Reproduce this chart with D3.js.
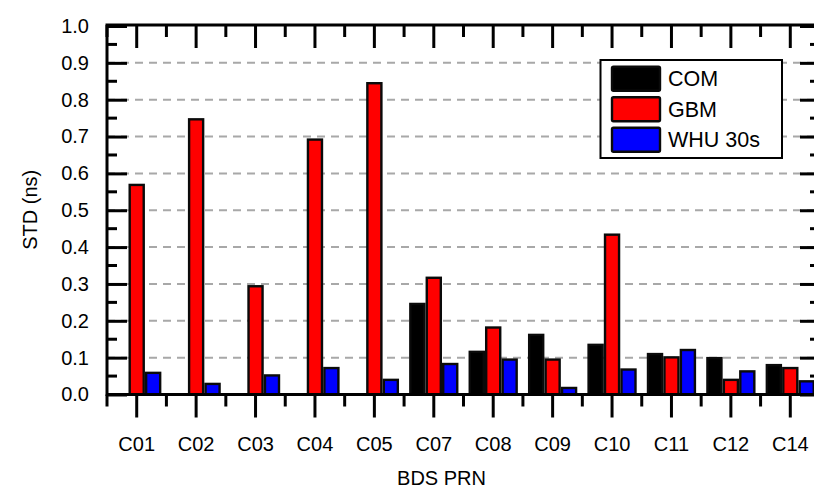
<!DOCTYPE html>
<html>
<head>
<meta charset="utf-8">
<script src="https://cdn.jsdelivr.net/npm/d3@7/dist/d3.min.js"></script>
<style>
  html, body { margin: 0; padding: 0; background: #fff; }
  svg { display: block; font-family: Arial, "Liberation Sans", sans-serif; }
</style>
</head>
<body>
<svg id="chart" width="814" height="489"></svg>
<script>
// ---- data ----
const categories = ["C01","C02","C03","C04","C05","C07","C08","C09","C10","C11","C12","C14"];
const seriesNames = ["COM","GBM","WHU 30s"];
const comValues = [0, 0, 0, 0, 0, 0.249, 0.119, 0.165, 0.138, 0.113, 0.102, 0.083];
const gbmValues = [0.572, 0.750, 0.297, 0.695, 0.848, 0.320, 0.185, 0.098, 0.437, 0.104, 0.043, 0.075];
const whuValues = [0.062, 0.032, 0.055, 0.075, 0.043, 0.086, 0.098, 0.021, 0.071, 0.124, 0.066, 0.039];
const yTickValues = [0.0, 0.1, 0.2, 0.3, 0.4, 0.5, 0.6, 0.7, 0.8, 0.9, 1.0];
const gridValues = [0.1, 0.2, 0.3, 0.4, 0.5, 0.6, 0.7, 0.8, 0.9];
const seriesColors = ["#000000", "#ff0000", "#0000ff"];

(function () {
const valuesBySeries = [comValues, gbmValues, whuValues];
const rows = categories.map((c, i) => ({
  cat: c,
  vals: seriesNames.map((s, k) => ({ key: s, value: valuesBySeries[k][i], color: seriesColors[k] }))
}));

// ---- layout ----
const pL = 107, pR = 820, pT = 25, pB = 394.5;
const svg = d3.select("#chart");

const x = d3.scaleBand().domain(categories).range([pL, pR]).padding(0);
const y = d3.scaleLinear().domain([0, 1]).range([pB, 26]);
const groupW = x.bandwidth() * 0.83;
const x1 = d3.scaleBand().domain(seriesNames).range([-groupW / 2, groupW / 2]).padding(0);

// gridlines
svg.append("g").selectAll("line").data(gridValues).join("line")
  .attr("x1", pL).attr("x2", pR)
  .attr("y1", d => y(d)).attr("y2", d => y(d))
  .attr("stroke", "#a8a8a8").attr("stroke-width", 2)
  .attr("stroke-dasharray", "8,6");

// bars
const sw = 2.4;
const groups = svg.append("g").selectAll("g").data(rows).join("g")
  .attr("transform", d => `translate(${x(d.cat) + x.bandwidth() / 2},0)`);
groups.selectAll("rect").data(d => d.vals.filter(v => v.value > 0)).join("rect")
  .attr("x", d => x1(d.key) + sw / 2)
  .attr("width", x1.bandwidth() - sw)
  .attr("y", d => y(d.value) + sw / 2)
  .attr("height", d => Math.max(0, y(0) - y(d.value) - sw / 2))
  .attr("fill", d => d.color)
  .attr("stroke", "#0a0a0a")
  .attr("stroke-width", sw);

// axes
const fmt = d3.format(".1f");
const tickStyle = g => {
  g.select(".domain").remove();
  g.selectAll(".tick line").attr("stroke", "#000").attr("stroke-width", 3);
  g.selectAll(".tick text").attr("fill", "#000").attr("font-size", 20)
    .attr("font-family", "Arial, 'Liberation Sans', sans-serif");
};

svg.append("g").attr("transform", `translate(${pL},0)`)
  .call(d3.axisLeft(y).tickValues(yTickValues).tickFormat(fmt).tickSize(-20).tickPadding(18))
  .call(tickStyle);
svg.append("g").attr("transform", `translate(${pR},0)`)
  .call(d3.axisRight(y).tickValues(yTickValues).tickFormat("").tickSize(-20))
  .call(tickStyle);
svg.append("g").attr("transform", `translate(0,${pB})`)
  .call(d3.axisBottom(x).tickSize(23).tickPadding(19))
  .call(tickStyle);
svg.append("g").attr("transform", `translate(0,${pT})`)
  .call(d3.axisTop(x).tickFormat("").tickSize(-23))
  .call(tickStyle);

// minor ticks
const yMinor = yTickValues.slice(0, -1).map((v, i) => (v + yTickValues[i + 1]) / 2);
const xMinor = categories.map(c => x(c)).concat([pR]);
const minor = svg.append("g").attr("stroke", "#000").attr("stroke-width", 3);
minor.selectAll(".ml").data(yMinor).join("line").attr("class", "ml")
  .attr("x1", pL).attr("x2", pL + 10).attr("y1", d => y(d)).attr("y2", d => y(d));
minor.selectAll(".mr").data(yMinor).join("line").attr("class", "mr")
  .attr("x1", pR).attr("x2", pR - 10).attr("y1", d => y(d)).attr("y2", d => y(d));
minor.selectAll(".mb").data(xMinor).join("line").attr("class", "mb")
  .attr("x1", d => d).attr("x2", d => d).attr("y1", pB).attr("y2", pB + 12);
minor.selectAll(".mt").data(xMinor).join("line").attr("class", "mt")
  .attr("x1", d => d).attr("x2", d => d).attr("y1", pT).attr("y2", pT + 12);

// frame
svg.append("rect").attr("x", pL).attr("y", pT)
  .attr("width", pR - pL).attr("height", pB - pT)
  .attr("fill", "none").attr("stroke", "#000").attr("stroke-width", 3);

// axis titles
svg.append("text").attr("x", (pL + 776) / 2).attr("y", 485)
  .attr("text-anchor", "middle").attr("font-size", 20).text("BDS PRN");
svg.append("text").attr("transform", `translate(37,${(pT + pB) / 2}) rotate(-90)`)
  .attr("text-anchor", "middle").attr("font-size", 20).text("STD (ns)");

// legend
const lg = svg.append("g");
lg.append("rect").attr("x", 600.5).attr("y", 60).attr("width", 181.5).attr("height", 98)
  .attr("fill", "#fff").attr("stroke", "#000").attr("stroke-width", 2);
const items = lg.selectAll("g.item").data(seriesNames).join("g").attr("class", "item")
  .attr("transform", (d, i) => `translate(0,${65.7 + i * 30.5})`);
items.append("rect").attr("x", 612).attr("y", 1).attr("width", 48).attr("height", 24)
  .attr("rx", 1.5)
  .attr("fill", (d, i) => seriesColors[i]).attr("stroke", "#0a0a0a").attr("stroke-width", 2.4);
items.append("text").attr("x", 668).attr("y", 20.5).attr("font-size", 21.5).text(d => d);
})();
</script>
</body>
</html>
